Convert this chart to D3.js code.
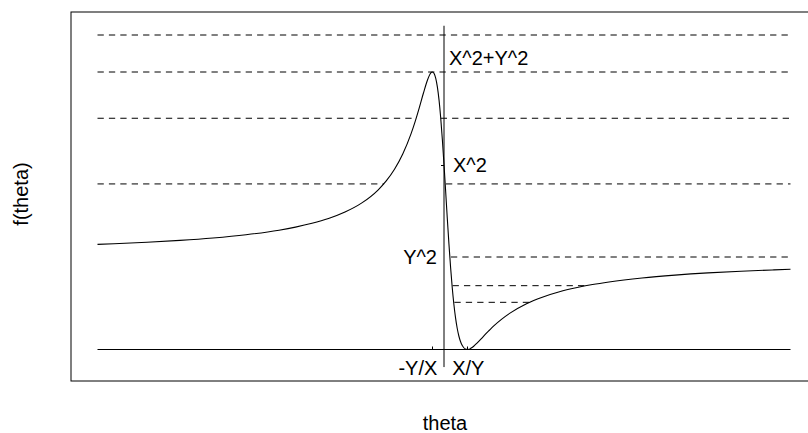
<!DOCTYPE html>
<html><head><meta charset="utf-8">
<script src="https://cdn.jsdelivr.net/npm/d3@7"></script>
<style>body{margin:0;background:#fff}svg{display:block}</style>
</head><body>
<svg id="c" width="808" height="433"></svg>
<script>
// ---- data ----
const theta = [-21,-20,-18,-16,-14,-12,-10,-9,-8,-7,-6,-5,-4,-3.5,-3,-2.5,-2,-1.75,-1.5,-1.25,-1,-0.9,-0.8,-0.707,-0.6,-0.5,-0.4,-0.3,-0.2,-0.1,0,0.1,0.2,0.3,0.4,0.5,0.6,0.7,0.8,0.9,1.0,1.1,1.2,1.3,1.414,1.5,1.6,1.7,1.8,2,2.25,2.5,2.75,3,3.5,4,5,6,7,8,9,10,12,14,16,18,20,21];
const fTheta = [1.137,1.144,1.160,1.180,1.206,1.241,1.290,1.323,1.364,1.416,1.486,1.582,1.724,1.822,1.948,2.113,2.331,2.464,2.613,2.770,2.914,2.958,2.990,3.000,2.983,2.931,2.837,2.696,2.505,2.270,2.000,1.710,1.417,1.139,0.886,0.668,0.487,0.342,0.230,0.146,0.086,0.045,0.019,0.005,0,0.002,0.010,0.021,0.035,0.069,0.115,0.163,0.208,0.252,0.328,0.393,0.495,0.568,0.624,0.667,0.702,0.730,0.773,0.804,0.828,0.846,0.861,0.868];
const levels = [3.4, 3.0, 2.5, 1.79, 1.0, 0.69, 0.51];
const levelSegments = [
  [[-21, 21]],
  [[-21, 21]],
  [[-21, -1.69], [-0.2, 21]],
  [[-21, -3.63], [0.12, 21]],
  [[0.42, 21]],
  [[0.52, 8.6]],
  [[0.63, 5.2]]
];
const xTickValues = [-0.707, 1.414];
const xTickLabels = ["-Y/X", "X/Y"];
const yTickValues = [3, 2, 1];
const yTickLabels = ["X^2+Y^2", "X^2", "Y^2"];
const yTickMarks = [2];
const vLineRange = [-0.19, 3.5];
const xTitle = "theta";
const yTitle = "f(theta)";

// ---- drawing ----
const svg = d3.select("#c");
const font = "'Liberation Sans', Arial, Helvetica, sans-serif";
const x = d3.scaleLinear().domain([-21, 21]).range([97.5, 790.5]);
const y = d3.scaleLinear().domain([0, 3]).range([349.5, 72]);

// frame
svg.append("rect").attr("x", 71).attr("y", 12).attr("width", 760).attr("height", 369)
  .attr("fill", "none").attr("stroke", "#000").attr("stroke-width", 1);

// dashed level sets
levels.forEach((lv, i) => {
  levelSegments[i].forEach(seg => {
    svg.append("line")
      .attr("x1", x(seg[0])).attr("x2", x(seg[1]))
      .attr("y1", y(lv)).attr("y2", y(lv))
      .attr("stroke", "#000").attr("stroke-width", 1)
      .attr("stroke-dasharray", "6.3,5.1");
  });
});

// baseline (f = 0)
svg.append("line").attr("x1", x(-21)).attr("x2", x(21))
  .attr("y1", y(0)).attr("y2", y(0)).attr("stroke", "#000").attr("stroke-width", 1);

// vertical line theta = 0
svg.append("line").attr("x1", x(0)).attr("x2", x(0))
  .attr("y1", y(vLineRange[0])).attr("y2", y(vLineRange[1]))
  .attr("stroke", "#000").attr("stroke-width", 1);

// x tick marks
xTickValues.forEach(v => {
  svg.append("line").attr("x1", Math.round(x(v)) + 0.5).attr("x2", Math.round(x(v)) + 0.5)
    .attr("y1", y(0)).attr("y2", y(0) - 3).attr("stroke", "#000");
});
// y tick marks on vertical line
yTickMarks.forEach(v => {
  svg.append("line").attr("x1", x(0) - 3).attr("x2", x(0))
    .attr("y1", Math.round(y(v)) + 0.5).attr("y2", Math.round(y(v)) + 0.5).attr("stroke", "#000");
});

// curve
const pts = theta.map((t, i) => [t, fTheta[i]]);
svg.append("path").datum(pts)
  .attr("d", d3.line().x(d => x(d[0])).y(d => y(d[1])).curve(d3.curveMonotoneX))
  .attr("fill", "none").attr("stroke", "#000").attr("stroke-width", 1.1);

// labels
const fs = 20;
svg.append("text").text(xTickLabels[0]).attr("x", x(xTickValues[0]) + 5).attr("y", 375)
  .attr("text-anchor", "end").attr("font-family", font).attr("font-size", fs);
svg.append("text").text(xTickLabels[1]).attr("x", x(xTickValues[1]) + 1).attr("y", 375)
  .attr("text-anchor", "middle").attr("font-family", font).attr("font-size", fs);

svg.append("text").text(yTickLabels[0]).attr("x", x(0) + 5).attr("y", y(yTickValues[0]) - 7)
  .attr("font-family", font).attr("font-size", fs);
svg.append("text").text(yTickLabels[1]).attr("x", x(0) + 9).attr("y", y(yTickValues[1]) + 7)
  .attr("font-family", font).attr("font-size", fs);
svg.append("text").text(yTickLabels[2]).attr("x", x(0) - 7).attr("y", y(yTickValues[2]) + 7)
  .attr("text-anchor", "end").attr("font-family", font).attr("font-size", fs);

// axis titles
svg.append("text").text(xTitle).attr("x", 445).attr("y", 429.5)
  .attr("text-anchor", "middle").attr("font-family", font).attr("font-size", fs);
svg.append("text").text(yTitle)
  .attr("transform", "translate(27.5,194) rotate(-90)")
  .attr("text-anchor", "middle").attr("font-family", font).attr("font-size", fs);
</script>
</body></html>
